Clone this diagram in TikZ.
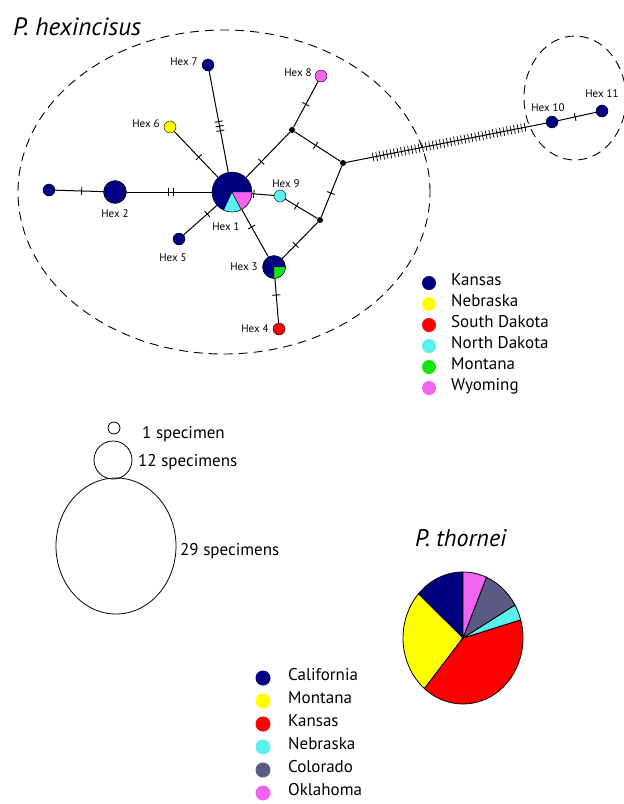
\documentclass[tikz,border=0pt]{standalone}
\usepackage{fontspec}
\setmainfont{PT Sans}
\usetikzlibrary{decorations.markings,shapes.geometric}

\definecolor{cNavy}{RGB}{0,0,128}
\definecolor{cYellow}{RGB}{255,255,0}
\definecolor{cRed}{RGB}{255,0,0}
\definecolor{cCyan}{RGB}{90,240,240}
\definecolor{cGreen}{RGB}{20,230,20}
\definecolor{cPink}{RGB}{240,100,240}
\definecolor{cSlate}{RGB}{90,90,130}

\tikzset{
  hap/.style={circle, draw=black, line width=0.4pt, inner sep=0pt, minimum size=12pt},
  med/.style={circle, fill=black, inner sep=0pt, minimum size=6pt},
  mut/.style={sloped, draw, line width=0.9pt, inner sep=0pt, minimum width=0pt, minimum height=8pt},
  link/.style={line width=1pt},
  every label/.style={font=\fontsize{11}{13}\selectfont, inner sep=1pt},
  legtext/.style={font=\fontsize{17}{20}\selectfont, inner sep=0pt, anchor=mid west},
  hatch/.style={postaction={decorate}, decoration={markings,
      mark=between positions 0.135 and 0.905 step 3.6pt with {\draw[line width=0.7pt] (0pt,-4.5pt) -- (0pt,4.5pt);}}}
}

\begin{document}
\begin{tikzpicture}[x=1pt, y=-1pt]
\useasboundingbox (0,0) rectangle (624,804);

\node[anchor=base west, inner sep=0pt, font=\itshape\fontsize{25}{30}\selectfont] (title1) at (13,35) {P. hexincisus};

% dashed groups
\draw[line width=0.9pt, dash pattern=on 9pt off 6pt] (224,192) ellipse [x radius=206pt, y radius=162pt];
\draw[line width=0.9pt, dash pattern=on 9pt off 6pt] (575,98) ellipse [x radius=51pt, y radius=62pt];

% haplotypes
\node[hap, fill=cNavy, minimum size=40pt] (hex1) at (232,192) {};
\node[hap, fill=cNavy, minimum size=23pt, label={[label distance=5pt]below:Hex 2}] (hex2) at (115,192) {};
\node[hap, fill=cNavy] (hex0) at (49,190) {};
\node[hap, fill=cNavy, minimum size=23pt, label={[label distance=3.5pt]left:Hex 3}] (hex3) at (274,267) {};
\node[hap, fill=cRed, label={[label distance=3pt]left:Hex 4}] (hex4) at (279,329) {};
\node[hap, fill=cNavy, label={[label distance=7pt, xshift=-6pt]below:Hex 5}] (hex5) at (179,239) {};
\node[hap, fill=cYellow, label={[label distance=3pt, yshift=3pt]left:Hex 6}] (hex6) at (170,127) {};
\node[hap, fill=cNavy, label={[label distance=3pt, yshift=3pt]left:Hex 7}] (hex7) at (208,65) {};
\node[hap, fill=cPink, label={[label distance=2pt, yshift=3pt]left:Hex 8}] (hex8) at (321,76) {};
\node[hap, fill=cCyan, label={[label distance=1pt, xshift=6pt]above:Hex 9}] (hex9) at (280,196) {};
\node[hap, fill=cNavy, label={[label distance=2.5pt, xshift=-4pt]above:Hex 10}] (hex10) at (552,122) {};
\node[hap, fill=cNavy, label={[label distance=5.5pt]above:Hex 11}] (hex11) at (602,111) {};
\node[med] (j1) at (292,130) {};
\node[med] (j2) at (343,163) {};
\node[med] (j3) at (320,220) {};

\filldraw[fill=cCyan, line width=0.4pt] (hex1.center) -- ++(245:20pt) arc[start angle=245, end angle=298, radius=20pt] -- cycle;
\filldraw[fill=cPink, line width=0.4pt] (hex1.center) -- ++(298:20pt) arc[start angle=298, end angle=360, radius=20pt] -- cycle;
\filldraw[fill=cGreen, line width=0.4pt] (hex3.center) -- ++(270:11.5pt) arc[start angle=270, end angle=360, radius=11.5pt] -- cycle;
\node[below=9pt, xshift=-6pt, font=\fontsize{11}{13}\selectfont, inner sep=1pt] (lab1) at (hex1.south) {Hex 1};

% links and mutations
\draw[link] (hex0) -- node[mut, pos=0.55] {} (hex2);
\draw[link] (hex2) -- node[mut, pos=0.485] {} node[mut, pos=0.545] {} (hex1);
\draw[link] (hex1) -- node[mut, pos=0.41] {} node[mut, pos=0.455] {} node[mut, pos=0.5] {} (hex7);
\draw[link] (hex1) -- node[mut, pos=0.44] {} (hex6);
\draw[link] (hex1) -- node[mut, pos=0.29] {} (hex5);
\draw[link] (hex1) -- node[mut, pos=0.35] {} (j1);
\draw[link] (j1) -- node[mut, pos=0.5] {} (hex8);
\draw[link] (j1) -- node[mut, pos=0.46] {} (j2);
\draw[link] (hex1) -- node[mut, pos=0.08] {} (hex9);
\draw[link] (hex9) -- node[mut, pos=0.35] {} (j3);
\draw[link] (j2) -- node[mut, pos=0.53] {} (j3);
\draw[link] (j3) -- node[mut, pos=0.62] {} (hex3);
\draw[link] (hex1) -- node[mut, pos=0.37] {} (hex3);
\draw[link] (hex3) -- node[mut, pos=0.37] {} (hex4);
\draw[link, hatch] (j2) -- (hex10);
\draw[link] (hex10) -- node[mut, pos=0.45] {} (hex11);

% legend P. hexincisus
\foreach \col/\state [count=\i from 0] in {cNavy/Kansas, cYellow/Nebraska, cRed/South Dakota, cCyan/North Dakota, cGreen/Montana, cPink/Wyoming}
{
  \fill[\col] (429,283+21*\i) circle[radius=7pt];
  \node[legtext] (lega\i) at (451,283+21*\i) {\state};
}

% sizes
\node[circle, draw, line width=0.8pt, inner sep=0pt, minimum size=12pt] (s1) at (114,428) {};
\node[circle, draw, line width=0.8pt, inner sep=0pt, minimum size=38pt] (s12) at (113,460) {};
\node[ellipse, draw, line width=0.8pt, inner sep=0pt, minimum width=120pt, minimum height=136pt] (s29) at (116,546) {};
\node[legtext] (t1) at (142,436) {1 specimen};
\node[legtext] (t12) at (138,464) {12 specimens};
\node[legtext] (t29) at (180,553) {29 specimens};

% P. thornei
\node[anchor=base west, inner sep=0pt, font=\itshape\fontsize{24}{29}\selectfont] (title2) at (415,546) {P. thornei};
\begin{scope}[shift={(463,638)}, yscale=1.1]
\foreach \a/\b/\col in {90/138/cNavy, 138/230/cYellow, 230/376/cRed, 376/390/cCyan, 390/427/cSlate, 427/450/cPink}
  \filldraw[fill=\col, draw=black, line width=0.8pt] (0,0) -- (\a:60pt) arc[start angle=\a, end angle=\b, radius=60pt] -- cycle;
\end{scope}

\foreach \col/\state [count=\i from 0] in {cNavy/California, cYellow/Montana, cRed/Kansas, cCyan/Nebraska, cSlate/Colorado, cPink/Oklahoma}
{
  \fill[\col] (263,678+23*\i) circle[radius=7.5pt];
  \node[legtext] (legb\i) at (288,678+23*\i) {\state};
}
\end{tikzpicture}
\end{document}
